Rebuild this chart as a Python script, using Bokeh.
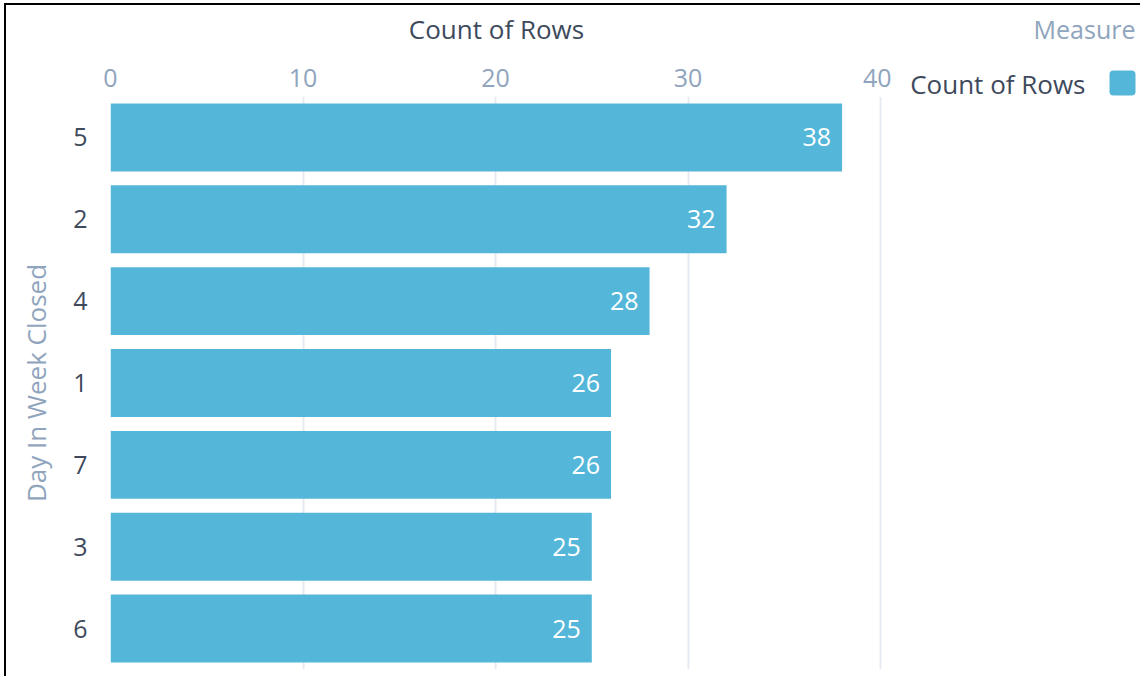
from bokeh.plotting import figure
from bokeh.layouts import row
from bokeh.models import ColumnDataSource, FactorRange, Range1d, FixedTicker
from bokeh.core.properties import value
from bokeh.embed import file_html
from bokeh.resources import INLINE

# ---- data (top to bottom as shown) ----
days = ["5", "2", "4", "1", "7", "3", "6"]
counts = [38, 32, 28, 26, 26, 25, 25]
x_ticks = [0, 10, 20, 30, 40]
measure_name = "Count of Rows"
legend_title = "Measure"
y_title = "Day In Week Closed"

FONT = "Open Sans"
BAR = "#54b7da"
DARK = "#3e4a5c"
LIGHT = "#8fa4bd"
GRID = "#e6ebf1"
H = 664

src = ColumnDataSource(dict(day=days, count=counts,
                            label=[str(c) for c in counts]))

p = figure(width=885, height=H,
           y_range=FactorRange(factors=list(reversed(days)), range_padding=0),
           x_range=Range1d(0, 40.1),
           x_axis_location="above",
           output_backend="svg", toolbar_location=None,
           min_border_left=104, min_border_right=9,
           min_border_top=91, min_border_bottom=0)
p.outline_line_color = None
p.background_fill_color = "white"
p.border_fill_color = "white"

bars = p.hbar(y="day", right="count", left=0, height=0.83, source=src,
              fill_color=BAR, line_color=None)

p.text(x="count", y="day", text="label", source=src,
       x_offset=-11, text_align="right", text_baseline="middle",
       text_color="white", text_font=value(FONT), text_font_size="25px")

# x axis (top)
xa = p.xaxis[0]
xa.ticker = FixedTicker(ticks=x_ticks)
xa.axis_label = measure_name
xa.axis_label_text_font = FONT
xa.axis_label_text_font_size = "26px"
xa.axis_label_text_font_style = "normal"
xa.axis_label_text_color = DARK
xa.axis_label_standoff = 19
xa.major_label_text_font = FONT
xa.major_label_text_font_size = "25px"
xa.major_label_text_color = LIGHT
xa.major_label_standoff = 4
xa.axis_line_color = None
xa.major_tick_line_color = None
xa.minor_tick_line_color = None

# y axis
ya = p.yaxis[0]
ya.axis_label = y_title
ya.axis_label_text_font = FONT
ya.axis_label_text_font_size = "26px"
ya.axis_label_text_font_style = "normal"
ya.axis_label_text_color = LIGHT
ya.axis_label_standoff = 16
ya.major_label_text_font = FONT
ya.major_label_text_font_size = "25px"
ya.major_label_text_color = DARK
ya.major_label_standoff = 17
ya.axis_line_color = None
ya.major_tick_line_color = None
ya.minor_tick_line_color = None

p.xgrid.ticker = FixedTicker(ticks=x_ticks)
p.xgrid.grid_line_color = GRID
p.xgrid.grid_line_width = 2
p.ygrid.grid_line_color = None

# ---- legend panel (pixel-like coordinates, y downwards) ----
LW = 249
q = figure(width=LW, height=H, x_range=Range1d(0, LW), y_range=Range1d(H, 0),
           x_axis_type=None, y_axis_type=None,
           output_backend="svg", toolbar_location=None,
           min_border_left=0, min_border_right=0,
           min_border_top=0, min_border_bottom=0)
q.outline_line_color = None
q.xgrid.visible = False
q.ygrid.visible = False
try:
    q.frame_align = False
except Exception:
    pass

q.text(x=[244], y=[23], text=[legend_title], text_align="right",
       text_baseline="middle", text_color=LIGHT,
       text_font=value(FONT), text_font_size="25px")
q.text(x=[194], y=[78], text=[measure_name], text_align="right",
       text_baseline="middle", text_color=DARK,
       text_font=value(FONT), text_font_size="26px")
try:
    q.quad(left=[218], right=[244], top=[65], bottom=[90],
           fill_color=BAR, line_color=None, border_radius=4)
except Exception:
    q.quad(left=[218], right=[244], top=[65], bottom=[90],
           fill_color=BAR, line_color=None)

layout = row(p, q, spacing=0)
layout.styles = {"border-left": "2px solid #000", "border-top": "2px solid #000",
                 "margin-left": "4px", "margin-top": "3px",
                 "padding-bottom": "7px"}

open("out.html", "w").write(file_html(layout, INLINE))
